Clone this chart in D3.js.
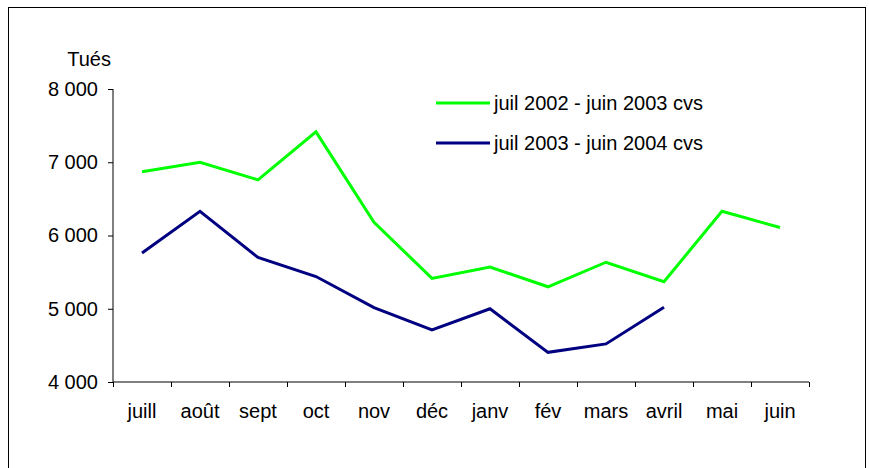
<!DOCTYPE html>
<html lang="fr">
<head>
<meta charset="UTF-8">
<title>Tués</title>
<script src="https://d3js.org/d3.v7.min.js"></script>
<style>
    body { margin: 0; background: #fff; }
    svg text { font-family: "Liberation Sans", Arial, sans-serif; fill: #000; }
</style>
</head>
<body>
<div id="chart"></div>
<script>
    // données
    const mois = ["juill", "août", "sept", "oct", "nov", "déc", "janv", "fév", "mars", "avril", "mai", "juin"];
    const serie2002 = [6870, 7000, 6760, 7415, 6180, 5415, 5570, 5300, 5635, 5370, 6330, 6110];
    const serie2003 = [5760, 6330, 5700, 5440, 5015, 4710, 5000, 4405, 4520, 5020, null, null];
    const nomsSeries = ["juil 2002 - juin 2003 cvs", "juil 2003 - juin 2004 cvs"];
    const couleurs = ["#00ff00", "#000080"];
    const yTicks = [4000, 5000, 6000, 7000, 8000];

    const width = 869, height = 468;
    const margin = { top: 89, right: 60, bottom: 86, left: 113 };
    const w = 809 - margin.left, h = 382 - margin.top;
    const fs = 20;

    const svg = d3.select("#chart").append("svg")
        .attr("width", width)
        .attr("height", height);

    // cadre
    svg.append("rect")
        .attr("x", 8.5).attr("y", 7.5)
        .attr("width", 857).attr("height", 480)
        .attr("fill", "none").attr("stroke", "#000").attr("stroke-width", 1);

    const g = svg.append("g").attr("transform", `translate(${margin.left},${margin.top})`);

    const x = d3.scaleBand().domain(mois).range([0, w]);
    const y = d3.scaleLinear().domain([4000, 8000]).range([h, 0]);

    const fmt = d => d3.format(",")(d).replace(",", " ");

    // axe y
    const yAxis = g.append("g")
        .call(d3.axisLeft(y).tickValues(yTicks).tickSize(5).tickPadding(10).tickFormat(fmt));
    yAxis.selectAll("text").attr("font-size", fs);
    yAxis.select(".domain").attr("d", `M0,0V${h}`);

    // axe x
    const xAxis = g.append("g")
        .attr("transform", `translate(0,${h})`)
        .call(d3.axisBottom(x).tickSize(0).tickPadding(22));
    xAxis.select(".domain").attr("d", `M0,0H${w}`);
    xAxis.selectAll("text").attr("font-size", fs);
    xAxis.selectAll(".sep")
        .data(d3.range(mois.length + 1))
        .enter().append("line")
        .attr("class", "sep")
        .attr("x1", i => i * x.step() + 0.5).attr("x2", i => i * x.step() + 0.5)
        .attr("y1", 0).attr("y2", 5)
        .attr("stroke", "#000");
    g.selectAll(".domain").attr("stroke", "#000");

    svg.append("text")
        .attr("x", 111).attr("y", 66)
        .attr("text-anchor", "end")
        .attr("font-size", fs)
        .text("Tués");

    // courbes
    const line = d3.line()
        .defined(d => d != null)
        .x((d, i) => x(mois[i]) + x.bandwidth() / 2)
        .y(d => y(d));

    [serie2002, serie2003].forEach((s, k) => {
        g.append("path")
            .datum(s)
            .attr("fill", "none")
            .attr("stroke", couleurs[k])
            .attr("stroke-width", 3)
            .attr("stroke-linejoin", "miter")
            .attr("d", line);
    });

    // légende
    const leg = svg.append("g").attr("transform", "translate(436,103)");
    nomsSeries.forEach((n, k) => {
        leg.append("line")
            .attr("x1", 0).attr("x2", 54)
            .attr("y1", k * 40).attr("y2", k * 40)
            .attr("stroke", couleurs[k]).attr("stroke-width", 3);
        leg.append("text")
            .attr("x", 58).attr("y", k * 40)
            .attr("dy", "0.35em")
            .attr("font-size", fs)
            .text(n);
    });
</script>
</body>
</html>
